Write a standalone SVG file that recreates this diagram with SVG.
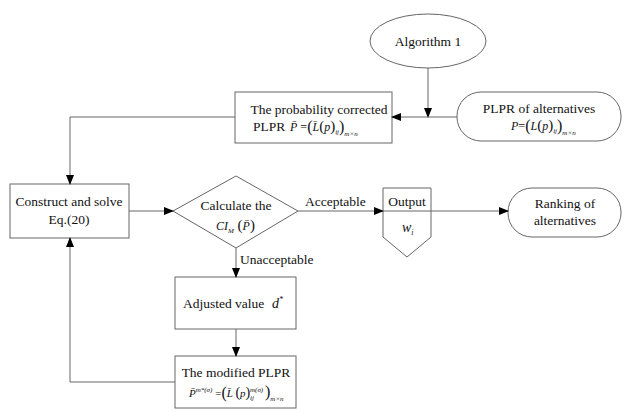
<svg xmlns="http://www.w3.org/2000/svg" width="624" height="412" viewBox="0 0 624 412">
<style>
.s{fill:#fff;stroke:#666;stroke-width:1}
.t{font-family:'Liberation Serif','DejaVu Serif',serif;font-size:13.5px;fill:#111}
.m{font-family:'Liberation Serif','DejaVu Serif',serif;font-style:italic;fill:#111}
.n{font-style:normal}
.c{stroke:#666;stroke-width:1;fill:none}
</style>
<defs>
<marker id="a" markerWidth="10" markerHeight="8" refX="9" refY="4" orient="auto" markerUnits="userSpaceOnUse">
<path d="M0,0 L10,4 L0,8 Z" fill="#000"/>
</marker>
</defs>
<rect width="624" height="412" fill="#fff"/>
<g id="alg1">
<ellipse class="s" cx="428" cy="41" rx="58" ry="27"/>
<text class="t" x="428" y="46" text-anchor="middle">Algorithm 1</text>
</g>
<g id="plpr-alt">
<rect class="s" x="457" y="92" width="164" height="49" rx="24" ry="24"/>
<text class="t" x="539" y="113" text-anchor="middle">PLPR of alternatives</text>
<text class="m" x="511" y="130" font-size="12">P<tspan class="n">=</tspan><tspan class="n" font-size="16" dy="1">(</tspan><tspan dy="-1">L</tspan><tspan class="n" font-size="15">(</tspan>p<tspan class="n" font-size="15">)</tspan><tspan font-size="7" dy="3">ij</tspan><tspan class="n" font-size="16" dy="-2">)</tspan><tspan font-size="7" dy="4">m×n</tspan></text>
</g>
<g id="prob-corrected">
<rect class="s" x="235" y="92" width="157" height="51"/>
<text class="t" x="319" y="114" text-anchor="middle">The probability corrected</text>
<text class="t" x="253" y="131">PLPR</text>
<text class="m" x="290" y="131" font-size="12">P̄<tspan class="n"> =</tspan><tspan class="n" font-size="16" dy="1">(</tspan><tspan dy="-1">L̄</tspan><tspan class="n" font-size="15">(</tspan>p<tspan class="n" font-size="15">)</tspan><tspan font-size="7" dy="3">ij</tspan><tspan class="n" font-size="16" dy="-2">)</tspan><tspan font-size="7" dy="4">m×n</tspan></text>
</g>
<g id="construct">
<rect class="s" x="10" y="184" width="119" height="54"/>
<text class="t" x="69" y="206" text-anchor="middle">Construct and solve</text>
<text class="t" x="69" y="224" text-anchor="middle">Eq.(20)</text>
</g>
<g id="calc">
<polygon class="s" points="173,211 236,176 298,211 236,248"/>
<text class="t" x="236" y="210" text-anchor="middle">Calculate the</text>
<text class="m" x="216" y="230" font-size="12">CI<tspan font-size="7" dy="3">M</tspan><tspan class="n" font-size="15" dy="-3"> (</tspan>P̄<tspan class="n" font-size="15">)</tspan></text>
</g>
<g id="output">
<polygon class="s" points="383,188 431,188 431,237 407,257 383,237"/>
<text class="t" x="407" y="206" text-anchor="middle">Output</text>
<text class="m" x="402" y="232" font-size="14">w<tspan font-size="8" dy="3">i</tspan></text>
</g>
<g id="ranking">
<rect class="s" x="508" y="188" width="113" height="49" rx="24" ry="24"/>
<text class="t" x="565" y="208" text-anchor="middle">Ranking of</text>
<text class="t" x="565" y="225" text-anchor="middle">alternatives</text>
</g>
<g id="adjusted">
<rect class="s" x="175" y="277" width="121" height="52"/>
<text class="t" x="183" y="308">Adjusted value</text>
<text class="m" x="272" y="308" font-size="14">d<tspan font-size="8" dy="-6">*</tspan></text>
</g>
<g id="modified">
<rect class="s" x="175" y="356" width="121" height="52"/>
<text class="t" x="236" y="377" text-anchor="middle">The modified PLPR</text>
<text class="m" x="189" y="397" font-size="11">P̄<tspan font-size="7" dy="-5">m*(σ)</tspan><tspan class="n" dy="5"> =</tspan><tspan class="n" font-size="16" dy="1">(</tspan><tspan dy="-1">L̄ </tspan><tspan class="n" font-size="14">(</tspan>p<tspan class="n" font-size="14">)</tspan></text>
<text class="m" x="250" y="392" font-size="7">m(σ)</text>
<text class="m" x="250" y="400" font-size="7">ij</text>
<text class="m" x="265" y="397" font-size="16"><tspan class="n">)</tspan><tspan font-size="7" dy="4">m×n</tspan></text>
</g>
<g id="connectors">
<line class="c" x1="428" y1="68" x2="428" y2="117" marker-end="url(#a)"/>
<line class="c" x1="457" y1="117" x2="392" y2="117" marker-end="url(#a)"/>
<polyline class="c" points="235,117 70,117 70,184" marker-end="url(#a)"/>
<line class="c" x1="129" y1="211" x2="173" y2="211" marker-end="url(#a)"/>
<line class="c" x1="298" y1="211" x2="383" y2="211" marker-end="url(#a)"/>
<line class="c" x1="383" y1="211" x2="508" y2="211" marker-end="url(#a)"/>
<line class="c" x1="236" y1="248" x2="236" y2="277" marker-end="url(#a)"/>
<line class="c" x1="236" y1="329" x2="236" y2="356" marker-end="url(#a)"/>
<polyline class="c" points="175,382 70,382 70,238" marker-end="url(#a)"/>
<text class="t" x="305" y="206">Acceptable</text>
<text class="t" x="240" y="264">Unacceptable</text>
</g>
</svg>
